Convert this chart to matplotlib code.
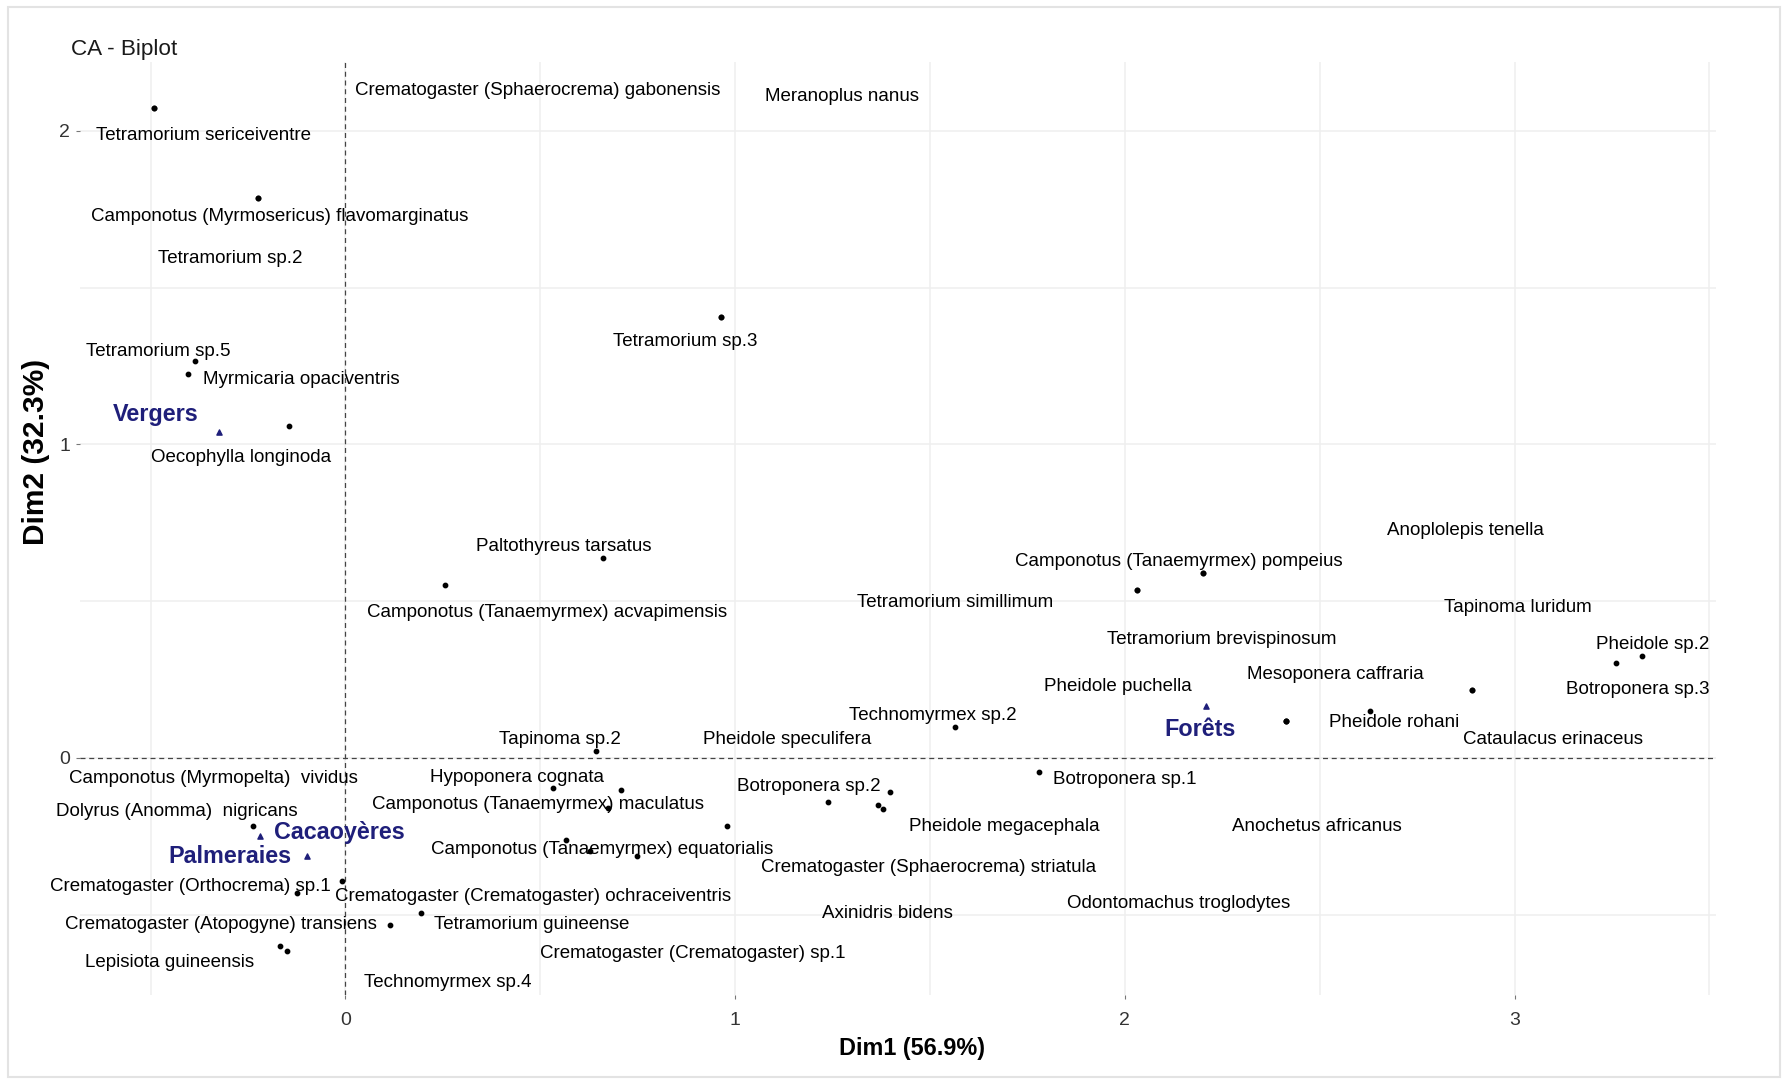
import matplotlib.pyplot as plt
from matplotlib.patches import Rectangle

plt.rcParams['font.family'] = ['Liberation Sans', 'DejaVu Sans']

# Column points (species) - CA coordinates
species = ['Tetramorium sericeiventre', 'Crematogaster (Sphaerocrema) gabonensis', 'Meranoplus nanus',
           'Camponotus (Myrmosericus) flavomarginatus', 'Tetramorium sp.2', 'Tetramorium sp.5',
           'Myrmicaria opaciventris', 'Oecophylla longinoda', 'Tetramorium sp.3', 'Paltothyreus tarsatus',
           'Camponotus (Tanaemyrmex) acvapimensis', 'Camponotus (Tanaemyrmex) pompeius',
           'Anoplolepis tenella', 'Tetramorium simillimum', 'Tapinoma luridum',
           'Tetramorium brevispinosum', 'Pheidole sp.2', 'Mesoponera caffraria', 'Pheidole puchella',
           'Botroponera sp.3', 'Pheidole rohani', 'Cataulacus erinaceus', 'Technomyrmex sp.2',
           'Tapinoma sp.2', 'Pheidole speculifera', 'Camponotus (Myrmopelta)  vividus',
           'Hypoponera cognata', 'Botroponera sp.2', 'Botroponera sp.1', 'Dolyrus (Anomma)  nigricans',
           'Camponotus (Tanaemyrmex) maculatus', 'Pheidole megacephala', 'Anochetus africanus',
           'Camponotus (Tanaemyrmex) equatorialis', 'Crematogaster (Sphaerocrema) striatula',
           'Crematogaster (Orthocrema) sp.1', 'Crematogaster (Crematogaster) ochraceiventris',
           'Odontomachus troglodytes', 'Crematogaster (Atopogyne) transiens', 'Tetramorium guineense',
           'Axinidris bidens', 'Crematogaster (Crematogaster) sp.1', 'Lepisiota guineensis',
           'Technomyrmex sp.4']
dim1 = [-0.490, -0.490, 0.965, -0.224, -0.224, -0.386, -0.403, -0.146, 0.965, 0.662,
        0.255, 2.200, 2.200, 2.032, 2.892, 2.032, 3.327, 2.414, 2.414, 3.260,
        2.628, 2.892, 1.564, 0.643, 0.706, -0.010, 0.533, 1.239, 1.779, -0.237,
        0.674, 1.367, 2.414, 0.567, 0.980, -0.124, 0.627, 1.397, 0.115, 0.195,
        1.380, 0.747, -0.169, -0.150]
dim2 = [2.072, 2.072, 1.405, 1.786, 1.786, 1.267, 1.224, 1.059, 1.405, 0.639,
        0.553, 0.591, 0.591, 0.537, 0.216, 0.537, 0.325, 0.117, 0.117, 0.303,
        0.149, 0.216, 0.099, 0.021, -0.101, -0.393, -0.095, -0.141, -0.044, -0.216,
        -0.160, -0.149, 0.117, -0.261, -0.216, -0.431, -0.298, -0.110, -0.532, -0.495,
        -0.163, -0.314, -0.601, -0.617]

# Row points (habitats)
sites = ['Vergers', 'Forêts', 'Cacaoyères', 'Palmeraies']
site_dim1 = [-0.325, 2.208, -0.220, -0.099]
site_dim2 = [1.041, 0.165, -0.248, -0.314]

# repelled label positions (data units)
label_x = [-0.363, 0.493, 1.274, -0.169, -0.296, -0.480, -0.113, -0.267, 0.871, 0.560,
           0.517, 2.138, 2.875, 1.565, 3.008, 2.249, 3.354, 2.541, 1.983, 3.315,
           2.692, 3.100, 1.507, 0.550, 1.133, -0.338, 0.440, 1.189, 2.001, -0.433,
           0.493, 1.692, 2.492, 0.659, 1.496, -0.398, 0.481, 2.138, -0.320, 0.477,
           1.390, 0.892, -0.452, 0.262]
label_y = [1.985, 2.128, 2.111, 1.727, 1.593, 1.298, 1.208, 0.959, 1.327, 0.676,
           0.465, 0.628, 0.724, 0.495, 0.479, 0.377, 0.363, 0.266, 0.228, 0.217,
           0.112, 0.059, 0.135, 0.059, 0.059, -0.064, -0.063, -0.091, -0.070, -0.170,
           -0.149, -0.218, -0.218, -0.292, -0.350, -0.410, -0.441, -0.463, -0.532, -0.532,
           -0.495, -0.623, -0.654, -0.717]
site_label_x = [-0.487, 2.194, -0.016, -0.297]
site_label_y = [1.097, 0.090, -0.237, -0.313]

navy = '#1f1f7a'

fig = plt.figure(figsize=(17.86, 10.83), dpi=100)
ax = fig.add_axes([0.0448, 0.0813, 0.916, 0.8615])

ax.set_xlim(-0.681, 3.517)
ax.set_ylim(-0.756, 2.22)
ax.set_xticks([0, 1, 2, 3])
ax.set_yticks([0, 1, 2])
ax.set_xticks([-0.5, 0.5, 1.5, 2.5, 3.5], minor=True)
ax.set_yticks([-0.5, 0.5, 1.5], minor=True)
ax.grid(which='both', color='#efefef', linewidth=1.1, zorder=0)
ax.set_axisbelow(True)
for s in ax.spines.values():
    s.set_visible(False)
ax.tick_params(which='major', length=3, width=0.8, color='#777777',
               labelsize=14, labelcolor='#333333')
ax.tick_params(axis='x', pad=9)
ax.tick_params(axis='y', pad=4)
ax.tick_params(which='minor', length=0)

ax.axhline(0, color='#444444', lw=0.9, ls=(0, (4, 3)), zorder=1)
ax.axvline(0, color='#444444', lw=0.9, ls=(0, (4, 3)), zorder=1)

ax.scatter(dim1, dim2, s=10, color='black', zorder=3)
ax.scatter(site_dim1, site_dim2, s=14, marker='^', color=navy, zorder=3)

for name, lx, ly in zip(species, label_x, label_y):
    ax.text(lx, ly, name, fontsize=13.5, ha='center', va='center', color='black', zorder=4)
for name, lx, ly in zip(sites, site_label_x, site_label_y):
    ax.text(lx, ly, name, fontsize=16.8, fontweight='bold', ha='center', va='center',
            color=navy, zorder=4)

fig.text(0.040, 0.949, 'CA - Biplot', fontsize=16.2, ha='left', va='baseline', color='#1a1a1a')
fig.text(0.5106, 0.026, 'Dim1 (56.9%)', fontsize=16.8, fontweight='bold', ha='center', va='baseline')
fig.text(0.020, 0.583, 'Dim2 (32.3%)', fontsize=21.5, fontweight='bold', rotation=90,
         ha='center', va='center')

fig.add_artist(Rectangle((0.0045, 0.0055), 0.9922, 0.988, transform=fig.transFigure,
                         fill=False, edgecolor='#e3e3e3', lw=1.5))

fig.savefig('out.png', dpi=100)
